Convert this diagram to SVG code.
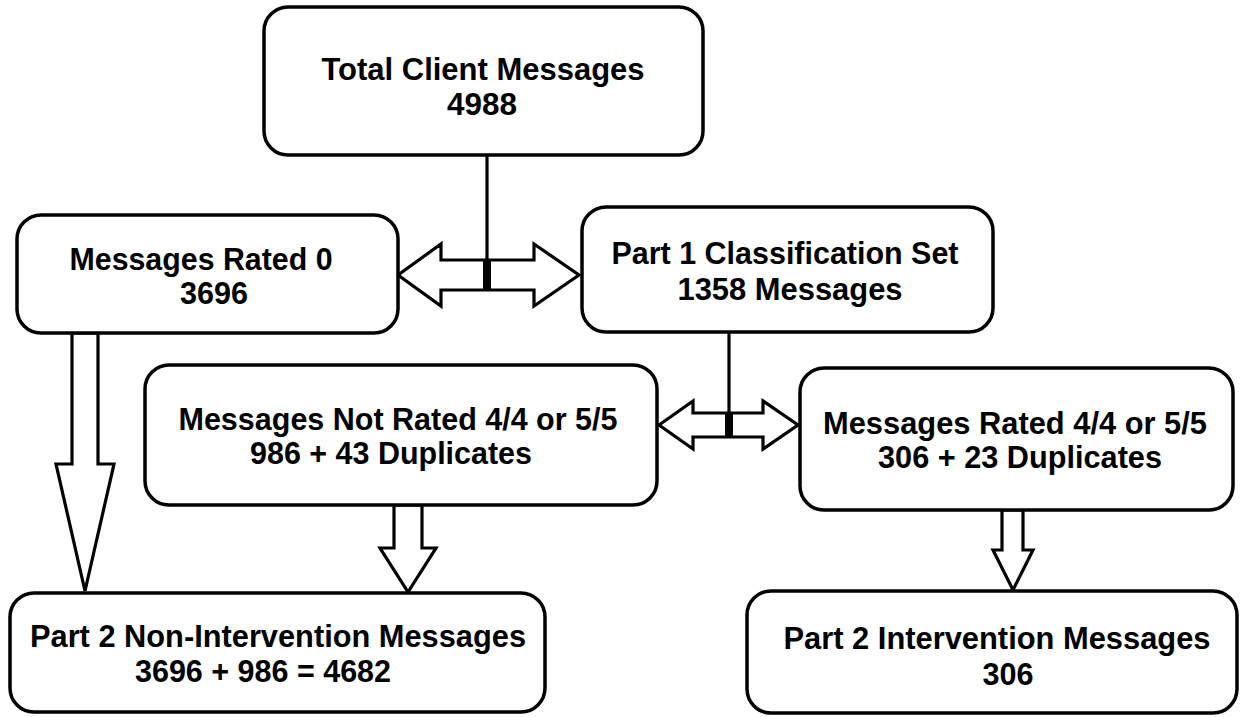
<svg xmlns="http://www.w3.org/2000/svg" width="1244" height="717" viewBox="0 0 1244 717">
<style>
.box{fill:#fff;stroke:#000;stroke-width:3.5}
.t{font-family:"Liberation Sans",Arial,sans-serif;font-weight:bold;font-size:30.5px;fill:#000;text-anchor:middle}
.ln{stroke:#000;stroke-width:3.2;fill:none}
.ar{fill:#fff;stroke:#000;stroke-width:3.2;stroke-linejoin:miter}
</style>
<rect width="1244" height="717" fill="#fff"/>
<g id="connectors">
<line class="ln" x1="487" y1="155" x2="487" y2="290"/>
<polygon class="ar" points="398,275 441,244 441,260 534,260 534,244 579,275 534,306 534,290 441,290 441,306"/>
<rect x="483" y="260" width="8" height="30" fill="#000"/>
<line class="ln" x1="729" y1="332" x2="729" y2="437"/>
<polygon class="ar" points="659,425 693,401 693,413 763,413 763,401 798,425 763,449 763,437 693,437 693,449"/>
<rect x="725" y="413" width="8" height="24" fill="#000"/>
<polygon class="ar" points="72,333 98,333 98,464 114,464 85,591 56,464 72,464"/>
<polygon class="ar" points="394,505 422,505 422,548 436,548 408,592 380,548 394,548"/>
<polygon class="ar" points="1002,510 1023,510 1023,550 1033,550 1013,590 993,550 1002,550"/>
</g>
<g id="total">
<rect class="box" x="264" y="7" width="439" height="148" rx="24"/>
<text class="t" x="483" y="80" textLength="323" lengthAdjust="spacingAndGlyphs">Total Client Messages</text>
<text class="t" x="482" y="115" textLength="70" lengthAdjust="spacingAndGlyphs">4988</text>
</g>
<g id="rated0">
<rect class="box" x="17" y="215" width="381" height="118" rx="24"/>
<text class="t" x="201" y="270" textLength="263" lengthAdjust="spacingAndGlyphs">Messages Rated 0</text>
<text class="t" x="214" y="304" textLength="68" lengthAdjust="spacingAndGlyphs">3696</text>
</g>
<g id="part1">
<rect class="box" x="582" y="207" width="411" height="125" rx="24"/>
<text class="t" x="785" y="264" textLength="347" lengthAdjust="spacingAndGlyphs">Part 1 Classification Set</text>
<text class="t" x="790" y="300" textLength="225" lengthAdjust="spacingAndGlyphs">1358 Messages</text>
</g>
<g id="notrated">
<rect class="box" x="145" y="365" width="512" height="140" rx="24"/>
<text class="t" x="398" y="430" textLength="439" lengthAdjust="spacingAndGlyphs">Messages Not Rated 4/4 or 5/5</text>
<text class="t" x="391" y="464" textLength="282" lengthAdjust="spacingAndGlyphs">986 + 43 Duplicates</text>
</g>
<g id="rated44">
<rect class="box" x="800" y="368" width="433" height="142" rx="24"/>
<text class="t" x="1015" y="434" textLength="384" lengthAdjust="spacingAndGlyphs">Messages Rated 4/4 or 5/5</text>
<text class="t" x="1020" y="468" textLength="284" lengthAdjust="spacingAndGlyphs">306 + 23 Duplicates</text>
</g>
<g id="p2non">
<rect class="box" x="10" y="593" width="535" height="119" rx="24"/>
<text class="t" x="278" y="647" textLength="496" lengthAdjust="spacingAndGlyphs">Part 2 Non-Intervention Messages</text>
<text class="t" x="263" y="682" textLength="256" lengthAdjust="spacingAndGlyphs">3696 + 986 = 4682</text>
</g>
<g id="p2int">
<rect class="box" x="747" y="591" width="490" height="122" rx="24"/>
<text class="t" x="997" y="649" textLength="427" lengthAdjust="spacingAndGlyphs">Part 2 Intervention Messages</text>
<text class="t" x="1008" y="685" textLength="51" lengthAdjust="spacingAndGlyphs">306</text>
</g>
</svg>
